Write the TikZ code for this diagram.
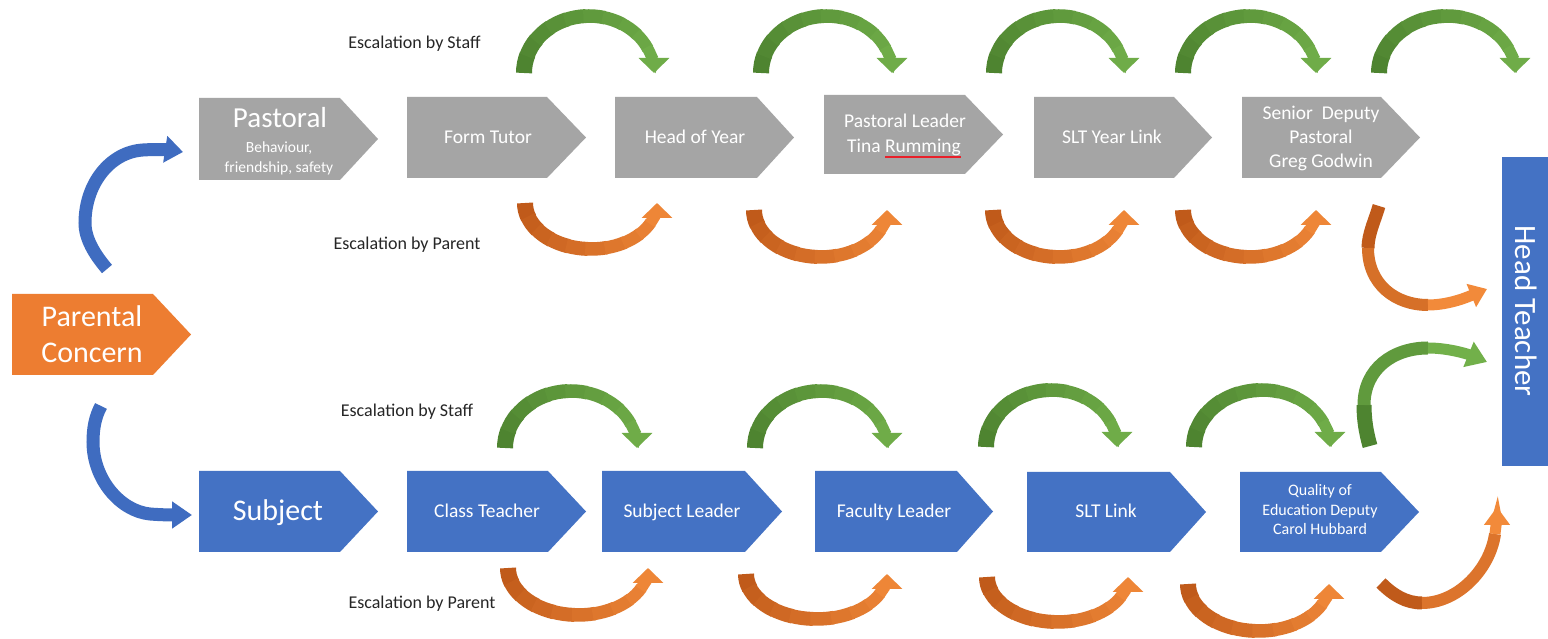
\documentclass[tikz,border=0pt]{standalone}
\usepackage{fontspec}
\setmainfont{Carlito}
\usetikzlibrary{arrows.meta}
\definecolor{boxgray}{HTML}{A5A5A5}
\definecolor{boxblue}{HTML}{4472C4}
\definecolor{boxorange}{HTML}{ED7D31}
\definecolor{gA}{HTML}{4E8430}
\definecolor{gB}{HTML}{72B04A}
\definecolor{oA}{HTML}{C05A1A}
\definecolor{oB}{HTML}{F28A3A}
\definecolor{arrowblue}{HTML}{3F6CC0}
\definecolor{labelgray}{HTML}{262626}
\definecolor{spellred}{HTML}{E8202A}
% curved block arrow made of an elliptic arc, shaded in steps
\newcommand\segarc[8]{%
  \foreach \k in {0,...,8}{%
    \pgfmathsetmacro\myA{#5+(#6-#5)*0.85*\k/9}%
    \pgfmathsetmacro\myB{#5+(#6-#5)*(0.85*(\k+1)/9+0.012)}%
    \pgfmathtruncatemacro\myP{100-\k*10}%
    \pgfmathsetmacro\myW{16-\k*0.5}%
    \draw[line width=\myW pt, draw=#7!\myP!#8]
      ([shift={(\myA:#3 and #4)}]#1,#2) arc[start angle=\myA, end angle=\myB, x radius=#3, y radius=#4];
  }%
  \pgfmathsetmacro\myA{#5+(#6-#5)*0.85}%
  \draw[line width=11.5pt, draw=#7!8!#8, -{Triangle[width=30pt,length=15pt]}]
    ([shift={(\myA:#3 and #4)}]#1,#2) arc[start angle=\myA, end angle=#6, x radius=#3, y radius=#4];
}
% chevron box: left, bottom, top, body end, tip, colour
\newcommand\chev[6]{%
  \fill[#6] (#1,#2) -- (#4,#2) -- (#5,{(#2+#3)/2}) -- (#4,#3) -- (#1,#3) -- cycle;}
\tikzset{
  boxtxt/.style={text=white, inner sep=0pt, anchor=base, font=\fontsize{19.5}{23}\selectfont},
  bigtxt/.style={boxtxt, font=\fontsize{30}{34}\selectfont},
  subtxt/.style={boxtxt, font=\fontsize{15.5}{19}\selectfont},
  smalltxt/.style={boxtxt, font=\fontsize{16}{19}\selectfont},
  esc/.style={text=labelgray, inner sep=0pt, anchor=base, font=\fontsize{18}{21}\selectfont}
}
\begin{document}
\begin{tikzpicture}[x=1pt,y=1pt]
\useasboundingbox (0,0) rectangle (1548,639);
\fill[white] (0,0) rectangle (1548,639);

% ---- boxes ----
\chev{199}{459}{541}{340}{378}{boxgray}
\chev{407}{461}{542}{547}{586}{boxgray}
\chev{615}{461}{542}{757}{794}{boxgray}
\chev{824}{465}{544}{965}{1003}{boxgray}
\chev{1034}{461}{542}{1174}{1212}{boxgray}
\chev{1242}{461}{542}{1381}{1420}{boxgray}
\chev{12}{264}{345}{153}{191}{boxorange}
\chev{199}{87}{168}{340}{378}{boxblue}
\chev{407}{87}{168}{548}{586}{boxblue}
\chev{602}{87}{168}{745}{782}{boxblue}
\chev{815}{87}{168}{957}{993}{boxblue}
\chev{1027}{87}{167}{1170}{1206}{boxblue}
\chev{1240}{87}{167}{1381}{1419}{boxblue}
\fill[boxblue] (1502,173) rectangle (1548,482);

% ---- box texts ----
\node[boxtxt, font=\fontsize{29}{32}\selectfont] (pastoral) at (280,511) {Pastoral};
\node[subtxt] (pastoralA) at (279,486) {Behaviour,};
\node[subtxt] (pastoralB) at (279,466) {friendship, safety};
\node[boxtxt] (formtutor) at (488,495) {Form Tutor};
\node[boxtxt] (headofyear) at (695,495) {Head of Year};
\node[boxtxt] (pleaderA) at (905,511) {Pastoral Leader};
\node[boxtxt] (pleaderB) at (904,486) {Tina Rumming};
\draw[spellred, line width=1.6pt] (885,482) -- (961,482);
\node[boxtxt] (sltyear) at (1112,495) {SLT Year Link};
\node[boxtxt] (seniorA) at (1321,519) {Senior\ \ Deputy};
\node[boxtxt] (seniorB) at (1321,495) {Pastoral};
\node[boxtxt] (seniorC) at (1321,471) {Greg Godwin};
\node[bigtxt] (parentalA) at (92,312) {Parental};
\node[bigtxt] (parentalB) at (92,276) {Concern};
\node[bigtxt] (subject) at (278,118) {Subject};
\node[boxtxt] (classteacher) at (487,121) {Class Teacher};
\node[boxtxt] (subjectleader) at (682,121) {Subject Leader};
\node[boxtxt] (facultyleader) at (894,121) {Faculty Leader};
\node[boxtxt] (sltlink) at (1106,121) {SLT Link};
\node[smalltxt] (qualityA) at (1320,143) {Quality of};
\node[smalltxt] (qualityB) at (1320,123) {Education Deputy};
\node[smalltxt] (qualityC) at (1320,104) {Carol Hubbard};
\node[boxtxt, font=\fontsize{31}{34}\selectfont, rotate=-90] (headteacher) at (1515.5,328) {Head Teacher};

% ---- labels ----
\node[esc] (staffTop) at (414.5,590) {Escalation by Staff};
\node[esc] (parentTop) at (407,389) {Escalation by Parent};
\node[esc] (staffBot) at (407,222) {Escalation by Staff};
\node[esc] (parentBot) at (422,30) {Escalation by Parent};

% ---- top green ----
\segarc{589}{566}{65}{57}{180}{0}{gA}{gB}
\segarc{826.5}{566}{65.5}{57}{180}{0}{gA}{gB}
\segarc{1059}{566}{65}{57}{180}{0}{gA}{gB}
\segarc{1249.5}{566}{66.5}{57}{180}{0}{gA}{gB}
\segarc{1447}{566}{68}{57}{180}{0}{gA}{gB}
% ---- top orange ----
\segarc{591}{436}{66}{46}{180}{360}{oA}{oB}
\segarc{820.5}{429}{66.5}{47}{180}{360}{oA}{oB}
\segarc{1058.5}{429}{65.5}{47}{180}{360}{oA}{oB}
\segarc{1249.5}{429}{66.5}{47}{180}{360}{oA}{oB}
% ---- bottom green ----
\segarc{571}{191}{66}{57}{180}{0}{gA}{gB}
\segarc{821}{191}{66}{57}{180}{0}{gA}{gB}
\segarc{1051.5}{192}{65.5}{57}{180}{0}{gA}{gB}
\segarc{1262}{192}{68}{57}{180}{0}{gA}{gB}
% ---- bottom orange ----
\segarc{578}{71}{70}{47}{180}{360}{oA}{oB}
\segarc{816.5}{65}{70.5}{45}{180}{360}{oA}{oB}
\segarc{1057.5}{62}{70.5}{45}{180}{360}{oA}{oB}
\segarc{1258.5}{55}{70.5}{47}{180}{360}{oA}{oB}

% ---- arrows into Head Teacher ----
\draw[line width=13pt, oA] (1379,433) .. controls (1375,419) and (1368,405) .. (1368,391);
\draw[line width=12pt, oA!55!oB] (1368,391) .. controls (1368,355) and (1395,334) .. (1428,334);
\draw[line width=11pt, oB, -{Triangle[width=24pt,length=17pt]}] (1428,334) .. controls (1450,334) and (1470,343) .. (1487,350);

\draw[line width=15pt, gA] (1370,193) .. controls (1366,207) and (1364,220) .. (1364,234);
\draw[line width=13pt, gA!50!gB] (1364,234) .. controls (1364,270) and (1393,291) .. (1428,291);
\draw[line width=11pt, gB, -{Triangle[width=26pt,length=20pt]}] (1428,291) .. controls (1450,291) and (1470,284) .. (1487,277);

\draw[line width=13pt, oA] (1381,56) .. controls (1393,44) and (1406,36) .. (1422,36);
\draw[line width=12pt, oA!45!oB] (1422,36) .. controls (1458,36) and (1490,70) .. (1495,105);
\draw[line width=11pt, oB, -{Triangle[width=25pt,length=18pt]}] (1495,105) .. controls (1496,114) and (1497,122) .. (1497,132);

% ---- blue arrows from Parental Concern ----
\draw[line width=13pt, arrowblue, -{Triangle[width=26pt,length=18pt]}]
  (107,370) .. controls (95,384) and (85,400) .. (85,416)
  .. controls (85,455) and (110,487) .. (143,489)
  .. controls (158,490) and (170,489) .. (183,487);
\draw[line width=13pt, arrowblue, -{Triangle[width=26pt,length=20pt]}]
  (101,233) .. controls (95,222) and (93,210) .. (93,197)
  .. controls (93,160) and (120,128) .. (150,125)
  .. controls (162,124) and (175,124) .. (192,124);
\end{tikzpicture}
\end{document}
